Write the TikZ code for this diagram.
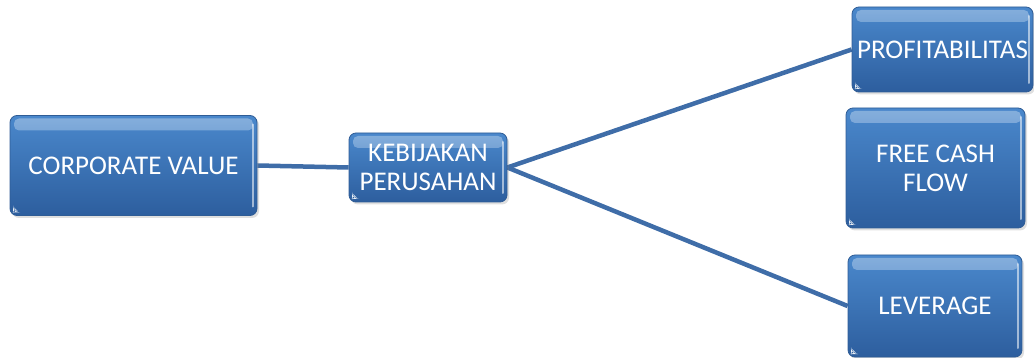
\documentclass[tikz,border=0pt]{standalone}
\usepackage{fontspec}
\setmainfont{Carlito}
\usetikzlibrary{shadows}
\pgfdeclarelayer{background}
\pgfsetlayers{background,main}
\definecolor{boxtop}{HTML}{4A88CC}
\definecolor{boxbot}{HTML}{2D5E9E}
\definecolor{boxedge}{HTML}{2F5C95}
\definecolor{linkblue}{HTML}{3F6DA8}
\tikzset{
  box/.style={rectangle, rounded corners=7pt, top color=boxtop, bottom color=boxbot,
    draw=boxedge, line width=0.8pt, text=white, align=center,
    font=\fontsize{27}{29}\selectfont, inner sep=0pt,
    drop shadow={opacity=0.25, shadow xshift=2pt, shadow yshift=-2.5pt},
    path picture={
      % soft glossy band along the top edge
      \shade[top color=boxtop!45!white, bottom color=boxtop, opacity=0.6, rounded corners=5pt]
        ([xshift=4pt,yshift=-3pt]path picture bounding box.north west) rectangle
        ([xshift=-4pt,yshift=-15pt]path picture bounding box.north east);
      % bright rim on the right edge
      \draw[white, opacity=0.55, line width=2pt, line cap=round]
        ([xshift=-4pt,yshift=-9pt]path picture bounding box.north east) --
        ([xshift=-4pt,yshift=9pt]path picture bounding box.south east);
      % small bevel tick in the lower left corner
      \fill[white, opacity=0.9]
        ([xshift=3pt,yshift=3pt]path picture bounding box.south west) --
        ([xshift=9pt,yshift=3pt]path picture bounding box.south west) --
        ([xshift=3pt,yshift=9pt]path picture bounding box.south west) -- cycle;
    }},
  link/.style={draw=linkblue, line width=4.5pt}
}
\begin{document}
\begin{tikzpicture}[x=1pt, y=-1pt]
  \useasboundingbox (0,0) rectangle (1034,358);
  \node[box, minimum width=247pt, minimum height=100pt] (corp) at (133.5,165.5) {CORPORATE VALUE};
  \node[box, minimum width=158pt, minimum height=69pt] (keb) at (428,167.5) {KEBIJAKAN\\PERUSAHAN};
  \node[box, minimum width=181pt, minimum height=85pt] (prof) at (942.5,49.5) {PROFITABILITAS};
  \node[box, minimum width=179pt, minimum height=120pt] (fcf) at (935.5,168) {FREE CASH\\FLOW};
  \node[box, minimum width=174pt, minimum height=102pt] (lev) at (935,306) {LEVERAGE};
  % connectors run underneath the boxes
  \begin{pgfonlayer}{background}
    \draw[link] (corp.east) -- (keb.west);
    \draw[link] (keb.east) -- (prof.west);
    \draw[link] (keb.east) -- (lev.west);
  \end{pgfonlayer}
\end{tikzpicture}
\end{document}
